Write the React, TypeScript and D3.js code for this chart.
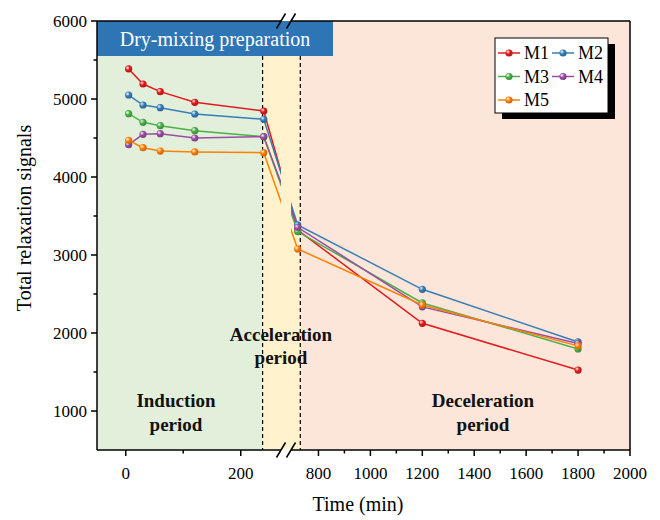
import React from "react";
import * as d3 from "d3";

// Sampling times (min) and total relaxation signal per mix
const times = [5, 30, 60, 120, 240, 720, 1200, 1800];
const seriesNames = ["M1", "M2", "M3", "M4", "M5"];
const m1 = [5385, 5192, 5094, 4958, 4846, 3320, 2124, 1525];
const m2 = [5051, 4923, 4889, 4808, 4740, 3385, 2560, 1885];
const m3 = [4812, 4701, 4658, 4594, 4517, 3300, 2385, 1795];
const m4 = [4414, 4547, 4555, 4500, 4517, 3355, 2335, 1865];
const m5 = [4470, 4376, 4333, 4321, 4312, 3077, 2360, 1835];
const seriesColors = ["#E41A1C", "#377EB8", "#4DAF4A", "#984EA3", "#FF7F00"];

// Axis ticks
const xMajorLeft = [0, 200];
const xMinorLeft = [100];
const xMajorRight = [800, 1000, 1200, 1400, 1600, 1800, 2000];
const xMinorRight = [900, 1100, 1300, 1500, 1700, 1900];
const yMajor = [1000, 2000, 3000, 4000, 5000, 6000];
const yMinor = [1500, 2500, 3500, 4500, 5500];

// Hydration phase boundaries (min)
const phaseBounds = [238, 730];

const W = 660;
const H = 520;
const left = 97;
const right = 630;
const top = 21;
const bottom = 450;
const gapStart = 281;
const gapEnd = 291;

export default function App() {
  const xL = d3.scaleLinear().domain([-50, 270]).range([left, gapStart]);
  const xR = d3.scaleLinear().domain([700, 2000]).range([292.5, right]);
  const xPos = (t: number) => (t <= 270 ? xL(t) : xR(t));
  const y = d3.scaleLinear().domain([500, 6000]).range([bottom, top]);

  const data = [m1, m2, m3, m4, m5];
  const line = d3
    .line<[number, number]>()
    .x((d) => xPos(d[0]))
    .y((d) => y(d[1]));

  const serif = "'Liberation Serif', 'Times New Roman', serif";
  const b1 = xPos(phaseBounds[0]);
  const b2 = xPos(phaseBounds[1]);

  const slash = (cx: number, cy: number, key: string) => (
    <line
      key={key}
      x1={cx - 4.5}
      y1={cy + 7.5}
      x2={cx + 4.5}
      y2={cy - 7.5}
      stroke="#000"
      strokeWidth={1.5}
    />
  );

  const legendX = 495;
  const legendY = 38;

  return (
    <svg width={W} height={H} style={{ position: "absolute", left: 0, top: 0, background: "#fff" }} fontFamily={serif}>
      <defs>
        <clipPath id="lineClip">
          <rect x={left} y={top} width={gapStart - left} height={bottom - top} />
          <rect x={gapEnd} y={top} width={right - gapEnd} height={bottom - top} />
        </clipPath>
        {seriesColors.map((c, i) => (
          <radialGradient key={i} id={`ball${i}`} cx="35%" cy="35%" r="65%">
            <stop offset="0%" stopColor="#fff" stopOpacity={0.75} />
            <stop offset="45%" stopColor={c} />
            <stop offset="100%" stopColor={d3.color(c)!.darker(0.6).toString()} />
          </radialGradient>
        ))}
      </defs>

      {/* Phase backgrounds */}
      <rect x={left} y={top} width={b1 - left} height={bottom - top} fill="#E2EFDA" />
      <rect x={b1} y={top} width={b2 - b1} height={bottom - top} fill="#FFF2CC" />
      <rect x={b2} y={top} width={right - b2} height={bottom - top} fill="#FCE6D9" />

      {/* Dry-mixing banner */}
      <rect x={left} y={top} width={333 - left} height={35} fill="#2E75B6" />
      <text x={(left + 333) / 2} y={46} textAnchor="middle" fontSize={20} fill="#fff">
        Dry-mixing preparation
      </text>

      {/* Phase boundaries */}
      {[b1, b2].map((bx, i) => (
        <line key={i} x1={bx} x2={bx} y1={56} y2={bottom} stroke="#000" strokeWidth={1.2} strokeDasharray="4,3" />
      ))}

      {/* Phase labels */}
      <g fontWeight="bold" fontSize={19} textAnchor="middle" fill="#111">
        <text x={176} y={407}>Induction</text>
        <text x={176} y={431}>period</text>
        <text x={281} y={341}>Acceleration</text>
        <text x={281} y={364}>period</text>
        <text x={483} y={407}>Deceleration</text>
        <text x={483} y={431}>period</text>
      </g>

      {/* Series lines */}
      <g clipPath="url(#lineClip)">
        {data.map((vals, i) => (
          <path
            key={i}
            d={line(times.map((t, j) => [t, vals[j]] as [number, number])) || ""}
            fill="none"
            stroke={seriesColors[i]}
            strokeWidth={1.5}
          />
        ))}
      </g>
      {data.map((vals, i) => (
        <g key={i}>
          {times.map((t, j) => (
            <circle key={j} cx={xPos(t)} cy={y(vals[j])} r={3.6} fill={`url(#ball${i})`} />
          ))}
        </g>
      ))}

      {/* Frame with axis break */}
      <g stroke="#000" strokeWidth={1.5} fill="none">
        <line x1={left} x2={left} y1={top} y2={bottom} />
        <line x1={right} x2={right} y1={top} y2={bottom} />
        <line x1={left} x2={gapStart} y1={bottom} y2={bottom} />
        <line x1={gapEnd} x2={right} y1={bottom} y2={bottom} />
        <line x1={left} x2={gapStart} y1={top} y2={top} />
        <line x1={gapEnd} x2={right} y1={top} y2={top} />
      </g>
      <rect x={gapStart + 0.5} y={bottom - 1} width={gapEnd - gapStart - 1} height={2} fill="#fff" />
      {slash(gapStart, bottom, "b1")}
      {slash(gapEnd, bottom, "b2")}
      {slash(gapStart, top, "t1")}
      {slash(gapEnd, top, "t2")}

      {/* Ticks */}
      <g stroke="#000" strokeWidth={1.5}>
        {[...xMajorLeft.map(xL), ...xMajorRight.map(xR)].map((px, i) => (
          <line key={`M${i}`} x1={px} x2={px} y1={bottom} y2={bottom + 6} />
        ))}
        {[...xMinorLeft.map(xL), ...xMinorRight.map(xR)].map((px, i) => (
          <line key={`m${i}`} x1={px} x2={px} y1={bottom} y2={bottom + 3.5} />
        ))}
        {yMajor.map((v) => (
          <line key={`yM${v}`} x1={left - 6} x2={left} y1={y(v)} y2={y(v)} />
        ))}
        {yMinor.map((v) => (
          <line key={`ym${v}`} x1={left - 3.5} x2={left} y1={y(v)} y2={y(v)} />
        ))}
      </g>
      <g fontSize={17} textAnchor="middle" fill="#000">
        {xMajorLeft.map((t) => (
          <text key={t} x={xL(t)} y={479}>{t}</text>
        ))}
        {xMajorRight.map((t) => (
          <text key={t} x={xR(t)} y={479}>{t}</text>
        ))}
      </g>
      <g fontSize={17} textAnchor="end" fill="#000">
        {yMajor.map((v) => (
          <text key={v} x={left - 10} y={y(v) + 6}>{v}</text>
        ))}
      </g>

      {/* Axis titles */}
      <text x={358} y={511} textAnchor="middle" fontSize={20}>Time (min)</text>
      <text transform="translate(31,218) rotate(-90)" textAnchor="middle" fontSize={20}>
        Total relaxation signals
      </text>

      {/* Legend */}
      <rect x={legendX + 7} y={legendY + 6} width={113} height={75} fill="#000" />
      <rect x={legendX} y={legendY} width={113} height={75} fill="#fff" stroke="#000" strokeWidth={1} />
      {seriesNames.map((name, i) => {
        const col = i % 2;
        const row = Math.floor(i / 2);
        const lx = legendX + 3 + col * 54;
        const ly = legendY + 15 + row * 23.5;
        return (
          <g key={name}>
            <line x1={lx} x2={lx + 22} y1={ly} y2={ly} stroke={seriesColors[i]} strokeWidth={1.5} />
            <circle cx={lx + 11} cy={ly} r={3.6} fill={`url(#ball${i})`} />
            <text x={lx + 26} y={ly + 6} fontSize={18}>{name}</text>
          </g>
        );
      })}
    </svg>
  );
}
